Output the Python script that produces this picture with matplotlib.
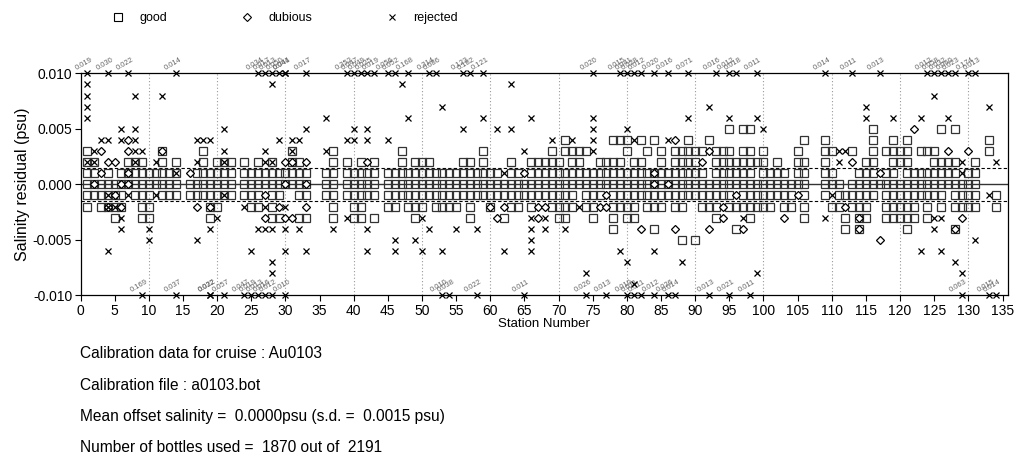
import matplotlib
matplotlib.use("Agg")
import matplotlib.pyplot as plt
from matplotlib.lines import Line2D
from matplotlib.ticker import FormatStrFormatter, MultipleLocator

plt.rcParams['font.family'] = ['Liberation Sans', 'DejaVu Sans']
plt.rcParams['axes.unicode_minus'] = False

# good bottles: station numbers at each residual level (units of 0.001 psu)
good_p5 = [95, 97, 98, 116, 126, 128]
good_p4 = [71, 78, 79, 80, 82, 84, 89, 92, 106, 109, 116, 119, 121, 133]
good_p3 = [1, 12, 18, 31, 37, 47, 59, 69, 71, 72, 73, 74, 80, 83, 85, 87, 88, 89, 90,
           91, 93, 94, 95, 97, 98, 100, 105, 109, 110, 113, 116, 118, 119, 120, 121,
           123, 124, 125, 133]
good_p2 = [1, 2, 7, 8, 9, 12, 14, 18, 20, 21, 22, 24, 26, 28, 31, 32, 37, 39, 41, 43,
           47, 49, 50, 51, 56, 57, 59, 63, 66, 67, 68, 69, 70, 72, 73, 76, 77, 78, 79,
           81, 82, 85, 87, 88, 89, 90, 93, 94, 95, 96, 97, 98, 99, 100, 102, 105, 106,
           109, 115, 116, 119, 120, 121, 125, 126, 127, 128, 131]
good_p1 = [1, 2, 4, 6, 7, 8, 9, 10, 11, 12, 13, 14, 17, 18, 19, 20, 21, 22, 24, 25, 26,
           27, 28, 29, 30, 31, 32, 33, 36, 37, 39, 40, 41, 42, 43, 45, 46, 47, 48, 49,
           50, 51, 52, 53, 54, 55, 56, 57, 58, 59, 60, 61, 63, 64, 66, 67, 68, 69, 70,
           71, 72, 73, 74, 75, 76, 77, 78, 79, 80, 81, 82, 83, 84, 85, 86, 87, 88, 89,
           90, 91, 93, 94, 95, 96, 97, 98, 100, 101, 102, 103, 105, 106, 109, 110, 114,
           115, 116, 118, 119, 121, 122, 123, 124, 125, 126, 127, 128, 130, 131]
good_0 = [1, 2, 3, 4, 5, 6, 7, 8, 9, 10, 11, 12, 13, 14, 16, 17, 18, 19, 20, 21, 22,
          24, 25, 26, 27, 28, 29, 30, 31, 32, 33, 36, 37, 39, 40, 41, 42, 43, 45, 46,
          47, 48, 49, 50, 51, 52, 53, 54, 55, 56, 57, 58, 59, 60, 61, 62, 63, 64, 65,
          66, 67, 68, 69, 70, 71, 72, 73, 74, 75, 76, 77, 78, 79, 80, 81, 82, 83, 84,
          85, 86, 87, 88, 89, 90, 91, 92, 93, 94, 95, 96, 97, 98, 99, 100, 101, 102,
          103, 104, 105, 106, 109, 110, 111, 113, 114, 115, 116, 117, 118, 119, 120,
          121, 122, 123, 124, 125, 126, 127, 128, 129, 130, 131]
good_m1 = [1, 2, 3, 4, 5, 6, 8, 9, 10, 12, 13, 14, 16, 17, 18, 19, 20, 21, 22, 24, 25,
           26, 28, 29, 32, 33, 36, 37, 39, 40, 41, 42, 43, 45, 46, 47, 48, 49, 50, 51,
           52, 53, 54, 55, 56, 57, 58, 59, 60, 61, 62, 63, 64, 65, 66, 67, 68, 69, 70,
           71, 72, 74, 75, 76, 78, 79, 80, 81, 82, 83, 84, 85, 86, 87, 88, 89, 90, 91,
           92, 93, 94, 95, 97, 98, 99, 100, 101, 102, 103, 104, 106, 109, 111, 112, 113,
           114, 115, 116, 118, 119, 120, 121, 122, 123, 124, 125, 126, 128, 129, 130,
           131, 134]
good_m2 = [1, 3, 4, 5, 6, 9, 10, 19, 20, 25, 26, 28, 37, 40, 41, 45, 46, 48, 49, 50,
           52, 53, 54, 55, 57, 60, 63, 64, 66, 69, 70, 71, 72, 74, 75, 78, 79, 80, 81,
           83, 84, 85, 87, 88, 91, 92, 93, 95, 96, 97, 98, 99, 100, 101, 103, 104, 106,
           110, 111, 113, 114, 115, 118, 119, 120, 121, 122, 124, 126, 128, 129, 130,
           131, 134]
good_m3 = [5, 9, 10, 19, 28, 29, 32, 33, 37, 40, 41, 43, 49, 57, 62, 70, 71, 75, 78,
           80, 81, 93, 98, 106, 112, 114, 115, 118, 119, 120, 121, 122, 124]
good_m4 = [78, 84, 96, 112, 114, 121, 128]
good_m5 = [88, 90]

# dubious bottles
dub_p5 = [122]
dub_p4 = [7, 87]
dub_p3 = [3, 7, 12, 92, 127, 130]
dub_p2 = [4, 5, 30, 31, 33, 42, 91, 113]
dub_p1 = [3, 7, 16, 65, 84, 117]
dub_0 = [2, 6, 7, 30, 33, 84, 86]
dub_m1 = [5, 27, 77, 96, 105]
dub_m2 = [4, 6, 17, 19, 29, 33, 60, 62, 67, 68, 76, 77, 94, 112]
dub_m3 = [27, 30, 31, 61, 67, 94, 103, 114, 129]
dub_m4 = [82, 87, 92, 97, 114, 128]
dub_m5 = [117]

# rejected bottles inside the plotted range
rej_p9 = [1, 28, 47, 63]
rej_p8 = [1, 8, 12, 125]
rej_p7 = [1, 53, 92, 115, 133]
rej_p6 = [1, 36, 48, 59, 66, 75, 89, 95, 99, 115, 119, 123, 127]
rej_p5 = [6, 8, 21, 33, 40, 42, 56, 61, 63, 75, 80, 100]
rej_p4 = [3, 4, 6, 8, 17, 18, 19, 29, 31, 32, 39, 40, 42, 45, 69, 72, 75, 81, 86]
rej_p3 = [2, 8, 9, 21, 27, 31, 36, 65, 75, 111, 112]
rej_p2 = [1, 2, 8, 11, 17, 21, 27, 28, 111, 129, 134]
rej_p1 = [14, 62, 129]
rej_m1 = [4, 7, 11, 21, 110, 133]
rej_m2 = [4, 5, 24, 27, 30, 73]
rej_m3 = [6, 20, 39, 50, 66, 68, 97, 109, 125, 126]
rej_m4 = [6, 10, 19, 26, 27, 28, 30, 32, 37, 42, 51, 55, 58, 66, 68, 71, 125]
rej_m5 = [10, 17, 46, 49, 66, 131]
rej_m6 = [4, 25, 30, 33, 42, 46, 50, 53, 62, 66, 79, 84, 123, 126]
rej_m7 = [28, 80, 88, 128]
rej_m8 = [28, 74, 99, 129]
rej_m9 = [81]

# rejected bottles off scale (clipped at +/-0.010, labelled with |residual|)
high_st = [1, 4, 7, 14, 26, 27, 28, 29, 30, 30, 33, 39, 40, 41, 42, 43, 45, 46, 48,
           51, 52, 56, 57, 59, 75, 79, 80, 81, 82, 84, 86, 89, 93, 95, 96, 99, 109,
           113, 117, 124, 125, 126, 127, 128, 130, 131]
high_val = [0.019, 0.030, 0.022, 0.014, 0.034, 0.017, 0.013, 0.050, 0.044, 0.041,
            0.017, 0.352, 0.047, 0.049, 0.025, 0.019, 0.056, 0.052, 0.168, 0.314,
            0.086, 0.123, 0.182, 0.121, 0.020, 0.015, 0.041, 0.028, 0.012, 0.020,
            0.016, 0.071, 0.016, 0.012, 0.018, 0.011, 0.014, 0.011, 0.013, 0.012,
            0.058, 0.032, 0.060, 0.023, 0.174, 0.013]
low_st = [9, 14, 19, 19, 21, 24, 25, 26, 27, 28, 30, 53, 54, 58, 65, 74, 77, 80, 81,
          82, 84, 86, 87, 92, 95, 98, 129, 133, 134]
low_val = [0.169, 0.037, 0.022, 0.032, 0.057, 0.047, 0.019, 0.013, 0.016, 0.012,
           0.010, 0.010, 0.038, 0.022, 0.011, 0.026, 0.013, 0.010, 0.011, 0.011,
           0.012, 0.026, 0.014, 0.013, 0.021, 0.011, 0.063, 0.015, 0.014]

mean_offset = 0.0
sd_offset = 0.0015


def collect(levels):
    xs, ys = [], []
    for lev, stations in levels:
        xs += stations
        ys += [lev * 0.001] * len(stations)
    return xs, ys


gx, gy = collect([(5, good_p5), (4, good_p4), (3, good_p3), (2, good_p2), (1, good_p1),
                  (0, good_0), (-1, good_m1), (-2, good_m2), (-3, good_m3),
                  (-4, good_m4), (-5, good_m5)])
dx, dy = collect([(5, dub_p5), (4, dub_p4), (3, dub_p3), (2, dub_p2), (1, dub_p1),
                  (0, dub_0), (-1, dub_m1), (-2, dub_m2), (-3, dub_m3), (-4, dub_m4),
                  (-5, dub_m5)])
rx, ry = collect([(9, rej_p9), (8, rej_p8), (7, rej_p7), (6, rej_p6), (5, rej_p5),
                  (4, rej_p4), (3, rej_p3), (2, rej_p2), (1, rej_p1), (-1, rej_m1),
                  (-2, rej_m2), (-3, rej_m3), (-4, rej_m4), (-5, rej_m5), (-6, rej_m6),
                  (-7, rej_m7), (-8, rej_m8), (-9, rej_m9)])

fig = plt.figure(figsize=(10.14, 4.67), dpi=100)
ax = fig.add_axes([80.5 / 1014, 1 - 295.3 / 467, (1008 - 80.5) / 1014, 222 / 467])

for xv in range(10, 140, 10):
    ax.axvline(xv, color='#999999', lw=0.8, ls=(0, (1, 2)), zorder=0)
ax.axhline(mean_offset, color='#333333', lw=1.0, zorder=1)
ax.axhline(mean_offset + sd_offset, color='black', lw=0.8, ls=(0, (3, 2)), zorder=1)
ax.axhline(mean_offset - sd_offset, color='black', lw=0.8, ls=(0, (3, 2)), zorder=1)

ax.plot(gx, gy, ls='none', marker='s', ms=6.3, mfc='none', mec='#333333', mew=0.9, zorder=2)
ax.plot(dx, dy, ls='none', marker='D', ms=4.3, mfc='white', mec='black', mew=0.9, zorder=3)
ax.plot(rx, ry, ls='none', marker='x', ms=4.3, color='black', mew=0.9, zorder=4)

ax.plot(high_st, [0.010] * len(high_st), ls='none', marker='x', ms=4.3, color='black',
        mew=0.9, zorder=4, clip_on=False)
ax.plot(low_st, [-0.010] * len(low_st), ls='none', marker='x', ms=4.3, color='black',
        mew=0.9, zorder=4, clip_on=False)
for s, v in zip(high_st, high_val):
    ax.text(s - 1.4, 0.0101, f"{v:.3f}", fontsize=5.5, color='#666666', rotation=30,
            rotation_mode='anchor', ha='left', va='bottom', clip_on=False)
for s, v in zip(low_st, low_val):
    ax.text(s - 1.4, -0.0099, f"{v:.3f}", fontsize=5.5, color='#666666', rotation=30,
            rotation_mode='anchor', ha='left', va='bottom', clip_on=False)

ax.set_xlim(0, 135.8)
ax.set_ylim(-0.010, 0.010)
ax.xaxis.set_major_locator(MultipleLocator(5))
ax.yaxis.set_major_locator(MultipleLocator(0.005))
ax.yaxis.set_major_formatter(FormatStrFormatter('%.3f'))
ax.tick_params(direction='out', length=4, width=0.8, labelsize=10, pad=2)
for sp in ax.spines.values():
    sp.set_linewidth(0.9)
ax.set_xlabel("Station Number", fontsize=9.5, labelpad=0.5)
ax.set_ylabel("Salinity residual (psu)", fontsize=11.5, labelpad=2)

handles = [Line2D([], [], ls='none', marker='s', ms=6, mfc='none', mec='black', mew=0.8),
           Line2D([], [], ls='none', marker='D', ms=4.3, mfc='none', mec='black', mew=0.8),
           Line2D([], [], ls='none', marker='x', ms=4.2, color='black', mew=0.8)]
fig.legend(handles, ['good', 'dubious', 'rejected'], ncol=3, frameon=False,
           loc='center left', bbox_to_anchor=(113 / 1014, 1 - 18 / 467), fontsize=9,
           handlelength=0.8, handletextpad=1.3, columnspacing=6.0, borderpad=0,
           borderaxespad=0)

info = ["Calibration data for cruise : Au0103",
        "Calibration file : a0103.bot",
        "Mean offset salinity =  0.0000psu (s.d. =  0.0015 psu)",
        "Number of bottles used =  1870 out of  2191"]
for i, line in enumerate(info):
    fig.text(80 / 1014, 1 - (354 + 31 * i) / 467, line, fontsize=11.2, va='center',
             ha='left')

fig.savefig("out.png", dpi=100)
